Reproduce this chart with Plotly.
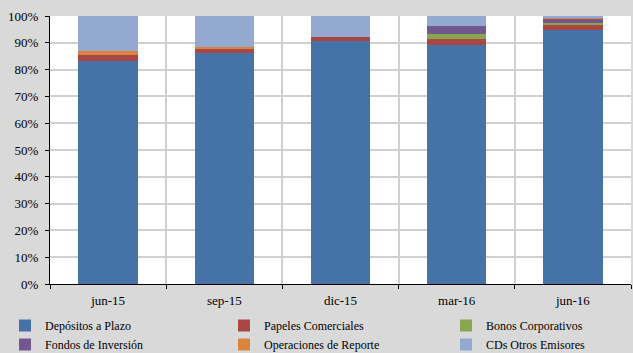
import plotly.graph_objects as go

categories = ["jun-15", "sep-15", "dic-15", "mar-16", "jun-16"]
depositos = [83.2, 86.1, 90.7, 89.1, 94.7]
papeles = [2.2, 1.6, 1.6, 2.5, 1.8]
bonos = [0.0, 0.0, 0.0, 1.5, 0.9]
fondos = [0.0, 0.0, 0.0, 3.2, 1.6]
operaciones = [1.5, 0.7, 0.0, 0.0, 0.5]
cds = [13.1, 11.6, 7.7, 3.7, 0.5]

series = [
    ("Depósitos a Plazo", depositos, "#4572A7", "legend"),
    ("Papeles Comerciales", papeles, "#AA4643", "legend2"),
    ("Bonos Corporativos", bonos, "#89A54E", "legend3"),
    ("Fondos de Inversión", fondos, "#71588F", "legend"),
    ("Operaciones de Reporte", operaciones, "#DB843D", "legend2"),
    ("CDs Otros Emisores", cds, "#93A9CF", "legend3"),
]

fig = go.Figure()
for name, vals, color, lg in series:
    fig.add_trace(go.Bar(
        x=categories, y=[v / 100 for v in vals], name=name, legend=lg,
        marker=dict(color=color, line=dict(width=0)),
    ))

font = "Liberation Serif, Tinos, Times New Roman, DejaVu Serif Condensed, DejaVu Serif, serif"
legfont = dict(family=font, size=12, color="#000000")


def leg(x0):
    return dict(
        orientation="v", xref="container", yref="container",
        x=x0 / 633, y=(353 - 311) / 353, xanchor="left", yanchor="top",
        font=legfont, bgcolor="rgba(0,0,0,0)", tracegroupgap=0,
        itemwidth=30, traceorder="normal",
    )


fig.update_layout(
    barmode="stack",
    bargap=0.49,
    width=633, height=353,
    margin=dict(l=50, r=2, t=16, b=69, autoexpand=False),
    paper_bgcolor="#d9d9d9",
    plot_bgcolor="#ffffff",
    font=dict(family=font, size=13, color="#000000"),
    showlegend=True,
    legend=leg(5),
    legend2=leg(224),
    legend3=leg(446),
    yaxis=dict(
        range=[0, 1], tickformat=".0%", dtick=0.1,
        showgrid=True, gridcolor="#d0d0d0", gridwidth=1.5,
        showline=True, linecolor="#000000", linewidth=1,
        ticks="outside", ticklen=4, tickcolor="#000000",
        zeroline=False, fixedrange=True, ticklabelstandoff=4,
        tickfont=dict(family=font, size=13), automargin=False,
    ),
    xaxis=dict(
        type="category", tickson="boundaries",
        showgrid=True, gridcolor="#d0d0d0", gridwidth=1.5,
        showline=True, linecolor="#000000", linewidth=1,
        ticks="outside", ticklen=4, tickcolor="#000000",
        ticklabelstandoff=4, tickangle=0,
        tickfont=dict(family=font, size=13), automargin=False,
    ),
)

fig.write_html("out.html")
